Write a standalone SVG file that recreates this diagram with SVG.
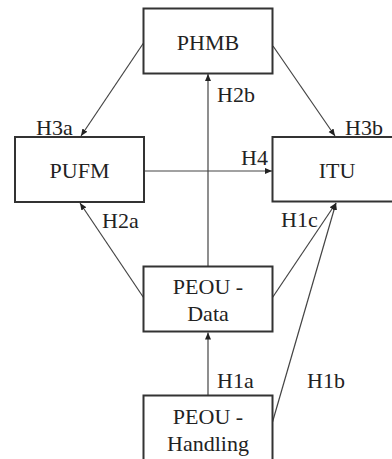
<svg xmlns="http://www.w3.org/2000/svg" width="392" height="459" viewBox="0 0 392 459">
<style>
.box{fill:#fff;stroke:#333;stroke-width:2}
.t{font-family:'Liberation Serif','Times New Roman',Times,serif;font-size:22px;fill:#222}
.c{text-anchor:middle}
.e{stroke:#444;stroke-width:1.2;fill:none;marker-end:url(#ah)}
</style>
<defs>
<marker id="ah" markerUnits="userSpaceOnUse" markerWidth="8" markerHeight="8" viewBox="0 0 8 8" refX="7" refY="4" orient="auto">
<path d="M0,1 L7,4 L0,7 Z" fill="#222"/>
</marker>
</defs>
<rect width="392" height="459" fill="#fff"/>
<g id="connectors">
<line class="e" x1="143.5" y1="43" x2="81" y2="136"/>
<line class="e" x1="273" y1="46" x2="335" y2="136"/>
<line class="e" x1="144" y1="171" x2="272" y2="171"/>
<line class="e" x1="208" y1="266" x2="208" y2="74"/>
<line class="e" x1="143.5" y1="297.5" x2="80" y2="203"/>
<line class="e" x1="272.5" y1="297.5" x2="336" y2="203"/>
<line class="e" x1="208" y1="395" x2="208" y2="332.5"/>
<line class="e" x1="272.5" y1="422" x2="336" y2="203"/>
</g>
<g font-family="Liberation Serif, Times New Roman, serif" font-size="22">
<g id="PHMB">
<rect class="box" x="143.5" y="8.5" width="129" height="65"/>
<text class="t c" x="208" y="50">PHMB</text>
</g>
<g id="PUFM">
<rect class="box" x="15" y="137" width="129" height="65"/>
<text class="t c" x="79.5" y="178">PUFM</text>
</g>
<g id="ITU">
<rect class="box" x="272.5" y="137" width="129" height="64.5"/>
<text class="t c" x="337" y="178">ITU</text>
</g>
<g id="PEOU-Data">
<rect class="box" x="143.5" y="266.5" width="129" height="65"/>
<text class="t c" x="208" y="294">PEOU -</text>
<text class="t c" x="208" y="320.5">Data</text>
</g>
<g id="PEOU-Handling">
<rect class="box" x="143.5" y="395.5" width="129" height="70"/>
<text class="t c" x="208" y="424">PEOU -</text>
<text class="t c" x="208" y="450.5">Handling</text>
</g>
<g id="labels">
<text class="t" x="36" y="134.5">H3a</text>
<text class="t" x="217" y="101.5">H2b</text>
<text class="t" x="345" y="135">H3b</text>
<text class="t" x="241" y="165">H4</text>
<text class="t" x="102" y="228">H2a</text>
<text class="t" x="281" y="226.5">H1c</text>
<text class="t" x="217" y="388">H1a</text>
<text class="t" x="307" y="388">H1b</text>
</g>
</g>
</svg>
